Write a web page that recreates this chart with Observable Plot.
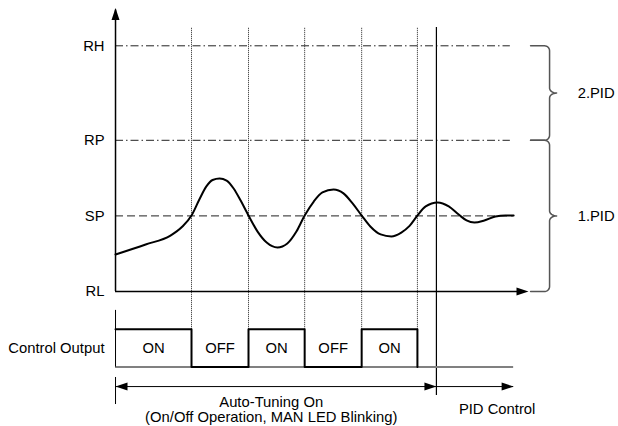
<!DOCTYPE html>
<html>
<head>
<meta charset="utf-8">
<script src="https://cdn.jsdelivr.net/npm/d3@7"></script>
<script src="https://cdn.jsdelivr.net/npm/@observablehq/plot@0.6"></script>
<style>
  html, body { margin: 0; padding: 0; background: #fff; }
  #chart svg { display: block; }
</style>
</head>
<body>
<div id="chart"></div>
<script>
// ---------- data (time t in arbitrary units, process value v in arbitrary units) ----------
const levelNames  = ["RL", "SP", "RP", "RH"];
const levelValues = [0, 40, 80, 130];

// process value curve
const curveT = [0, 7.3, 13.3, 16.2, 18.4, 20.3, 22.0, 23.5, 25.2, 26.9, 28.6, 30.3, 32.2, 34.4, 36.6, 39.2,
                41.6, 43.8, 45.8, 48.0, 50.1, 52.8, 55.2, 57.4, 59.6, 61.7, 64.2, 66.8, 69.2, 71.2, 73.1,
                75.1, 78.0, 80.7, 83.1, 85.0, 86.9, 89.3, 92.0, 94.4, 96.4];
const curveV = [19.6, 24.9, 29.6, 34.4, 40.2, 48.7, 55.6, 59.0, 59.8, 58.7, 54.5, 48.1, 40.2, 31.7, 25.9, 23.3,
                25.4, 31.7, 40.2, 47.6, 52.4, 54.0, 51.9, 46.6, 40.2, 34.4, 30.2, 29.1, 31.2, 34.7, 40.2,
                45.0, 47.1, 45.0, 40.7, 37.6, 36.5, 37.6, 39.7, 40.2, 40.2];

// control output
const switchTimes  = [0, 18.4, 32.2, 45.8, 59.6, 73.1];
const outputStates = ["ON", "OFF", "ON", "OFF", "ON"];
const outputLevels = {ON: -20, OFF: -40};
const pidStart = 77.7;
const timeEnd = 96.4;
const axisEnd = 100;

// braces
const braceLabels = ["2.PID", "1.PID"];
const braceTop    = [130, 80];
const braceBottom = [80, 0];

// annotations
const autoTuningLines = ["Auto-Tuning On", "(On/Off Operation, MAN LED Blinking)"];
const pidControlLabel = "PID Control";
const outputLabel = "Control Output";

// ---------- derived tables ----------
const curve = curveT.map((t, i) => ({t, v: curveV[i]}));
const levels = levelNames.map((n, i) => ({name: n, v: levelValues[i]}));

const wave = [];
outputStates.forEach((s, i) => wave.push({t: switchTimes[i], v: outputLevels[s]}));
wave.push({t: switchTimes[switchTimes.length - 1], v: outputLevels.OFF});
const stateLabels = outputStates.map((s, i) => ({s, t: (switchTimes[i] + switchTimes[i + 1]) / 2, v: -30}));

// px per unit (from the chosen scale geometry) for brace rounding
const kx = 4.13, ky = 1.89;
function bracePoints(top, bottom, id) {
  const x0 = 100.5, xv = 105.1, xt = 106.8;
  const rx = 5 / kx, ry = 5 / ky, rx2 = xt - xv;
  const mid = (top + bottom) / 2;
  const pts = [{t: x0, v: top}];
  const arc = (cx, cy, ax, ay, a0, a1) => {
    for (let k = 0; k <= 8; k++) {
      const a = a0 + (a1 - a0) * k / 8;
      pts.push({t: cx + ax * Math.cos(a), v: cy + ay * Math.sin(a)});
    }
  };
  arc(xv - rx, top - ry, rx, ry, Math.PI / 2, 0);
  arc(xt, mid + ry, rx2, ry, Math.PI, 1.5 * Math.PI);
  arc(xt, mid - ry, rx2, ry, 0.5 * Math.PI, Math.PI);
  arc(xv - rx, bottom + ry, rx, ry, 0, -Math.PI / 2);
  pts.push({t: x0, v: bottom});
  return pts.map(p => ({...p, id}));
}
const braces = braceLabels.flatMap((l, i) => bracePoints(braceTop[i], braceBottom[i], l));
const braceText = braceLabels.map((l, i) => ({l, v: (braceTop[i] + braceBottom[i]) / 2}));

// arrowhead symbols (tip at anchor)
const triRight = {draw(c) { c.moveTo(0, 0); c.lineTo(-12, -4); c.lineTo(-12, 4); c.closePath(); }};
const triLeft  = {draw(c) { c.moveTo(0, 0); c.lineTo(12, -4); c.lineTo(12, 4); c.closePath(); }};
const triUp    = {draw(c) { c.moveTo(0, 0); c.lineTo(-4, 12); c.lineTo(4, 12); c.closePath(); }};

const FS = 14.8;
const topV = 139.7;

const chart = Plot.plot({
  width: 618,
  height: 426,
  margin: 0,
  x: {domain: [-27.85, 121.79], axis: null},
  y: {domain: [-71.43, 153.97], axis: null},
  style: {fontFamily: "'Liberation Sans', Arial, sans-serif", fontSize: FS + "px", background: "#fff", color: "#000"},
  marks: [
    // reference lines RH, RP (dash-dot), SP (dashed)
    Plot.ruleY(levels.filter(d => d.name === "RH" || d.name === "RP"), {y: "v", x1: 0, x2: 95.6, stroke: "#222", strokeWidth: 1, strokeDasharray: "8,3,1.5,3"}),
    Plot.ruleY(levels.filter(d => d.name === "SP"), {y: "v", x1: 0, x2: timeEnd, stroke: "#222", strokeWidth: 1, strokeDasharray: "8,4"}),
    // vertical dotted switch lines
    Plot.ruleX(switchTimes.slice(1), {x: d => d, y1: outputLevels.ON, y2: topV, stroke: "#222", strokeWidth: 1, strokeDasharray: "1,1"}),
    // PID start solid line
    Plot.ruleX([pidStart], {x: d => d, y1: -55, y2: topV, stroke: "#000", strokeWidth: 1.2}),
    // axes
    Plot.ruleX([0], {x: d => d, y1: 0, y2: 149, stroke: "#000", strokeWidth: 1.5}),
    Plot.ruleY([0], {y: d => d, x1: 0, x2: axisEnd - 1, stroke: "#000", strokeWidth: 1.5}),
    Plot.dot([{t: 0, v: 150}], {x: "t", y: "v", symbol: triUp, fill: "#000", stroke: "none"}),
    Plot.dot([{t: axisEnd, v: 0}], {x: "t", y: "v", symbol: triRight, fill: "#000", stroke: "none"}),
    // process value curve
    Plot.line(curve, {x: "t", y: "v", curve: "monotone-x", stroke: "#000", strokeWidth: 2}),
    // level labels
    Plot.text(levels, {x: -2.66, y: "v", text: "name", textAnchor: "end", fill: "#000"}),
    // braces
    Plot.line(braces, {x: "t", y: "v", z: "id", stroke: "#555", strokeWidth: 1.5}),
    Plot.text(braceText, {x: 111.9, y: "v", text: "l", textAnchor: "start", fill: "#000"}),
    // control output
    Plot.ruleY([outputLevels.OFF], {y: d => d, x1: 0, x2: timeEnd, stroke: "#808080", strokeWidth: 2}),
    Plot.ruleX([0], {x: d => d, y1: -10, y2: outputLevels.OFF, stroke: "#000", strokeWidth: 1}),
    Plot.line(wave, {x: "t", y: "v", curve: "step-after", stroke: "#000", strokeWidth: 2}),
    Plot.text(stateLabels, {x: "t", y: "v", text: "s", fill: "#000"}),
    Plot.text([outputLabel], {x: -2.66, y: -30, text: d => d, textAnchor: "end", fill: "#000"}),
    // auto-tuning / PID control arrows
    Plot.ruleX([0], {x: d => d, y1: -45.5, y2: -59.8, stroke: "#000", strokeWidth: 1}),
    Plot.ruleY([-50.3], {y: d => d, x1: 0, x2: pidStart, stroke: "#000", strokeWidth: 1}),
    Plot.ruleY([-50.3], {y: d => d, x1: pidStart, x2: timeEnd, stroke: "#000", strokeWidth: 1}),
    Plot.dot([{t: 0, v: -50.3}], {x: "t", y: "v", symbol: triLeft, fill: "#000", stroke: "none"}),
    Plot.dot([{t: pidStart, v: -50.3}, {t: timeEnd, v: -50.3}], {x: "t", y: "v", symbol: triRight, fill: "#000", stroke: "none"}),
    Plot.text(autoTuningLines, {x: 37.7, y: (d, i) => i === 0 ? -58.7 : -66.5, text: d => d, fill: "#000"}),
    Plot.text([pidControlLabel], {x: 92.4, y: -62.2, text: d => d, fill: "#000"})
  ]
});
document.getElementById("chart").appendChild(chart);
</script>
</body>
</html>
